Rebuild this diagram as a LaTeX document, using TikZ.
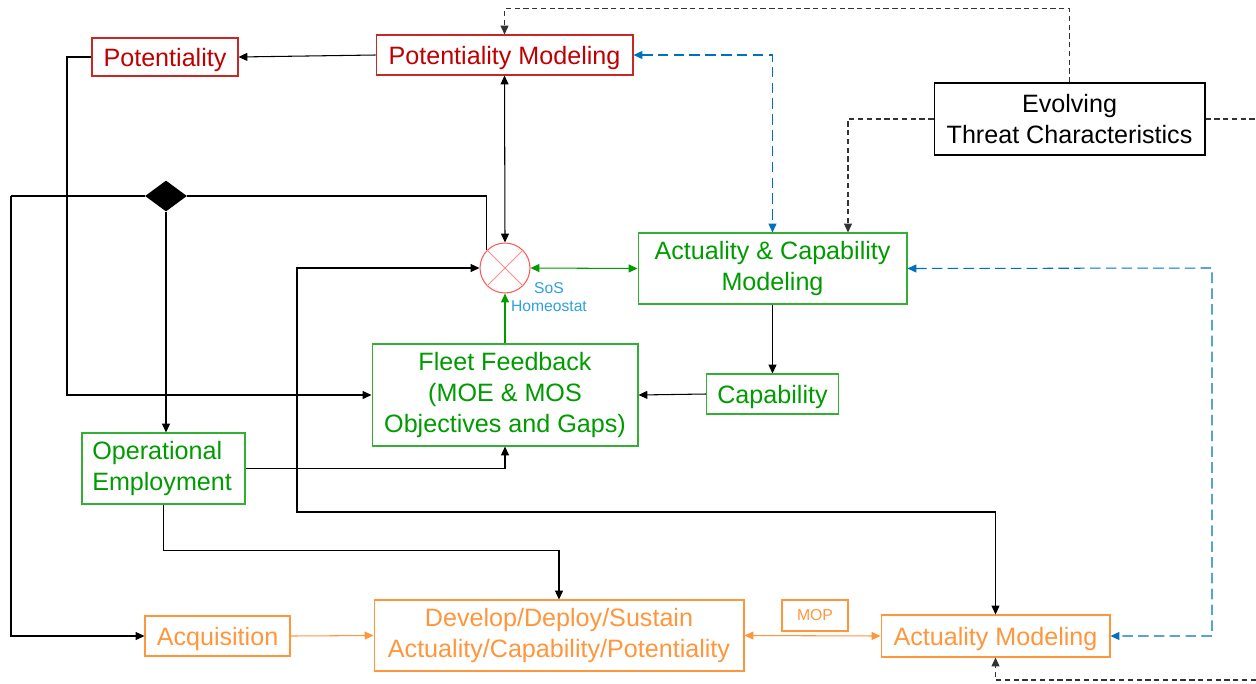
\documentclass[tikz,border=0pt]{standalone}
\usepackage{fontspec}
\setmainfont{Liberation Sans}
\usetikzlibrary{arrows.meta,shapes.geometric,calc}
\definecolor{potred}{RGB}{192,0,0}
\definecolor{capgreen}{RGB}{0,155,0}
\definecolor{acqorange}{RGB}{255,150,60}
\definecolor{feedblue}{RGB}{0,112,192}
\definecolor{homeoblue}{RGB}{45,160,225}
\tikzset{
  box/.style={draw, inner sep=0pt, align=center, line width=0.6pt,
    font=\fontsize{14.3}{17.6}\selectfont},
  oneline/.style={text height=10.9pt, text depth=0pt},
  redbox/.style={box, draw=potred!85, text=potred},
  greenbox/.style={box, draw=capgreen!80, text=capgreen},
  orangebox/.style={box, draw=acqorange, text=acqorange},
  link/.style={-{Triangle[length=5pt,width=4.5pt]}, line width=0.6pt},
  twoway/.style={{Triangle[length=5pt,width=4.5pt]}-{Triangle[length=5pt,width=4.5pt]}, line width=0.6pt},
  threatdash/.style={dash pattern=on 3pt off 2pt, black!80},
  bluedash/.style={dash pattern=on 6pt off 3pt, feedblue},
}
\begin{document}
\begin{tikzpicture}[x=0.02cm, y=-0.02cm]
    \useasboundingbox (0,0) rectangle (1256,683);
    % potentiality
    \node[redbox, oneline, minimum width=2.92cm, minimum height=0.76cm] (pot) at (165,57) {Potentiality};
    \node[redbox, oneline, minimum width=5.14cm, minimum height=0.80cm] (potmod) at (504.5,55) {Potentiality Modeling};
    % threat
    \node[box, minimum width=5.42cm, minimum height=1.44cm] (threat) at (1069.5,119) {Evolving\\Threat Characteristics};
    % homeostat
    \node[draw=red!65, circle, minimum size=1cm, inner sep=0pt, line width=0.6pt] (circ) at (505,268) {};
    \draw[red!45, line width=0.5pt] (circ.north west) -- (circ.south east);
    \draw[red!45, line width=0.5pt] (circ.north east) -- (circ.south west);
    \node[text=homeoblue, align=center, font=\fontsize{8.9}{10.5}\selectfont, inner sep=0pt] (homeo) at (549,297) {SoS\\Homeostat};
    \node[fill=black, diamond, minimum width=0.84cm, minimum height=0.62cm, inner sep=0pt] (dia) at (166,196) {};
    % capability
    \node[greenbox, minimum width=5.38cm, minimum height=1.42cm] (acmod) at (772.5,268.5) {Actuality \& Capability\\Modeling};
    \node[greenbox, minimum width=5.32cm, minimum height=2.04cm] (fleet) at (505,395) {Fleet Feedback\\(MOE \& MOS\\Objectives and Gaps)};
    \node[greenbox, oneline, minimum width=2.64cm, minimum height=0.80cm] (cap) at (772.5,394) {Capability};
    \node[greenbox, minimum width=3.26cm, minimum height=1.42cm, align=left, text width=2.85cm] (opemp) at (163.5,468.5) {Operational\\Employment};
    % acquisition
    \node[orangebox, oneline, minimum width=2.90cm, minimum height=0.80cm] (acq) at (217.5,636) {Acquisition};
    \node[orangebox, minimum width=7.40cm, minimum height=1.42cm] (dev) at (559,635.5) {Develop/Deploy/Sustain\\Actuality/Capability/Potentiality};
    \node[orangebox, minimum width=1.32cm, minimum height=0.62cm, font=\fontsize{9}{11}\selectfont] (mop) at (815,615.5) {MOP};
    \node[orangebox, oneline, minimum width=4.58cm, minimum height=0.84cm] (actmod) at (995.5,636) {Actuality Modeling};
    % black links
    \draw[link] (potmod.west) -- (pot.east);
    \draw[link] (pot.west) -- (67,57) |- (fleet.west);
    \draw[twoway] (potmod.south) -- (circ.north);
    \draw[line width=0.6pt] (dia.east) -| (circ.135);
    \draw[line width=0.6pt] (dia.west) -- (11,196);
    \draw[link] (11,196) |- (acq.west);
    \draw[link] (dia.south) -- (dia |- opemp.north);
    \draw[twoway] (circ.west) -- (297,268) -- (297,512) -| (actmod.north);
    \draw[link] (acmod.south) -- (cap.north);
    \draw[link] (cap.west) -- (fleet.east);
    \draw[link] (opemp.east) -| (fleet.south);
    \draw[link] (opemp.south) -- ++(0,46) -| (dev.north);
    % green links
    \draw[twoway, capgreen] (circ.east) -- (acmod.west);
    \draw[link, capgreen] (fleet.north) -- (circ.south);
    % orange links
    \draw[link, acqorange] (acq.east) -- (dev.west);
    \draw[twoway, acqorange] (dev.east) -- (actmod.west);
    % threat links
    \draw[link, threatdash] (threat.north) -- ++(0,-74) -| (potmod.north);
    \draw[link, threatdash] (threat.west) -| ($(acmod.north)+(75.5,0)$);
    \draw[threatdash, line width=0.6pt] (threat.east) -- (1256,119);
    \draw[link, threatdash] (1256,680) -| (actmod.south);
    % blue links
    \draw[twoway, bluedash] (potmod.east) -| (acmod.north);
    \draw[twoway, bluedash] (acmod.east) -- (1212,268) |- (actmod.east);
\end{tikzpicture}
\end{document}
